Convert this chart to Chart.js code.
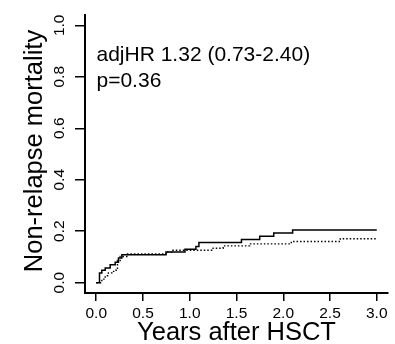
<!DOCTYPE html>
<html>
<head>
<meta charset="utf-8">
<script src="https://cdn.jsdelivr.net/npm/chart.js@4"></script>
<style>
html,body{margin:0;padding:0;background:#fff;}
#wrap{position:relative;width:395px;height:344px;}
</style>
</head>
<body>
<div id="wrap"><canvas id="c" width="395" height="344"></canvas></div>
<script>
// Step-curve data (years after HSCT, cumulative NRM)
const solidTimes = [0, 0.035, 0.06, 0.096, 0.149, 0.203, 0.238, 0.274, 0.746, 0.949, 1.066, 1.098, 1.553, 1.748, 1.898, 2.10, 3.0];
const solidNRM   = [0, 0.038, 0.048, 0.057, 0.070, 0.079, 0.096, 0.109, 0.119, 0.130, 0.141, 0.156, 0.168, 0.180, 0.193, 0.205, 0.205];
const dottedTimes = [0, 0.06, 0.096, 0.13, 0.167, 0.213, 0.227, 0.256, 0.327, 0.75, 0.807, 1.25, 1.357, 1.64, 2.086, 2.61, 3.0];
const dottedNRM   = [0, 0.014, 0.027, 0.038, 0.044, 0.050, 0.086, 0.102, 0.112, 0.119, 0.126, 0.134, 0.143, 0.151, 0.160, 0.171, 0.171];
const xTicks = [0, 0.5, 1.0, 1.5, 2.0, 2.5, 3.0];
const yTicks = [0, 0.2, 0.4, 0.6, 0.8, 1.0];
const xTitle = 'Years after HSCT';
const yTitle = 'Non-relapse mortality';
const annotation = ['adjHR 1.32 (0.73-2.40)', 'p=0.36'];

const FONT = '"Liberation Sans", Arial, Helvetica, sans-serif';

const toPts = (xs, ys) => xs.map((x, i) => ({x: x, y: ys[i]}));

const textPlugin = {
  id: 'texts',
  afterDraw(chart) {
    const ctx = chart.ctx;
    const ca = chart.chartArea;
    ctx.save();
    ctx.fillStyle = '#000';
    // x title
    ctx.font = '25.5px ' + FONT;
    ctx.textAlign = 'center';
    ctx.textBaseline = 'alphabetic';
    ctx.fillText(xTitle, (ca.left + ca.right) / 2, 340);
    // y title
    ctx.font = '25.5px ' + FONT;
    ctx.save();
    ctx.translate(42, (ca.top + ca.bottom) / 2 - 3);
    ctx.rotate(-Math.PI / 2);
    ctx.fillText(yTitle, 0, 0);
    ctx.restore();
    // annotation
    ctx.font = '21px ' + FONT;
    ctx.textAlign = 'left';
    ctx.fillText(annotation[0], 96.5, 61);
    ctx.fillText(annotation[1], 96.5, 87);
    ctx.restore();
  }
};

new Chart(document.getElementById('c'), {
  type: 'line',
  data: {
    datasets: [
      {
        data: toPts(solidTimes, solidNRM),
        borderColor: '#000',
        borderWidth: 1.5,
        stepped: 'before',
        pointRadius: 0,
        fill: false
      },
      {
        data: toPts(dottedTimes, dottedNRM),
        borderColor: '#000',
        borderWidth: 1.4,
        borderDash: [1.5, 2],
        stepped: 'before',
        pointRadius: 0,
        fill: false
      }
    ]
  },
  options: {
    responsive: false,
    animation: false,
    devicePixelRatio: 1,
    layout: {padding: {top: 15, right: 7, left: 0, bottom: 0}},
    plugins: {legend: {display: false}, tooltip: {enabled: false}},
    scales: {
      x: {
        type: 'linear',
        min: -0.12,
        max: 3.12,
        afterBuildTicks: s => { s.ticks = xTicks.map(v => ({value: v})); },
        afterFit: s => { s.height = 51; },
        grid: {display: true, drawOnChartArea: false, drawTicks: true, tickLength: 8, color: '#000', lineWidth: 1.5},
        border: {display: true, color: '#000', width: 2},
        ticks: {
          autoSkip: false,
          maxRotation: 0, minRotation: 0,
          padding: 3,
          color: '#000',
          font: {family: FONT, size: 15.5},
          callback: v => Number(v).toFixed(1)
        }
      },
      y: {
        type: 'linear',
        min: -0.04,
        max: 1.04,
        afterBuildTicks: s => { s.ticks = yTicks.map(v => ({value: v})); },
        afterFit: s => { s.width = 85; },
        grid: {display: true, drawOnChartArea: false, drawTicks: true, tickLength: 10, color: '#000', lineWidth: 1.5},
        border: {display: true, color: '#000', width: 2},
        ticks: {
          autoSkip: false,
          minRotation: 90, maxRotation: 90,
          crossAlign: 'center',
          padding: 5,
          color: '#000',
          font: {family: FONT, size: 15.5},
          callback: v => Number(v).toFixed(1)
        }
      }
    }
  },
  plugins: [textPlugin]
});
</script>
</body>
</html>
